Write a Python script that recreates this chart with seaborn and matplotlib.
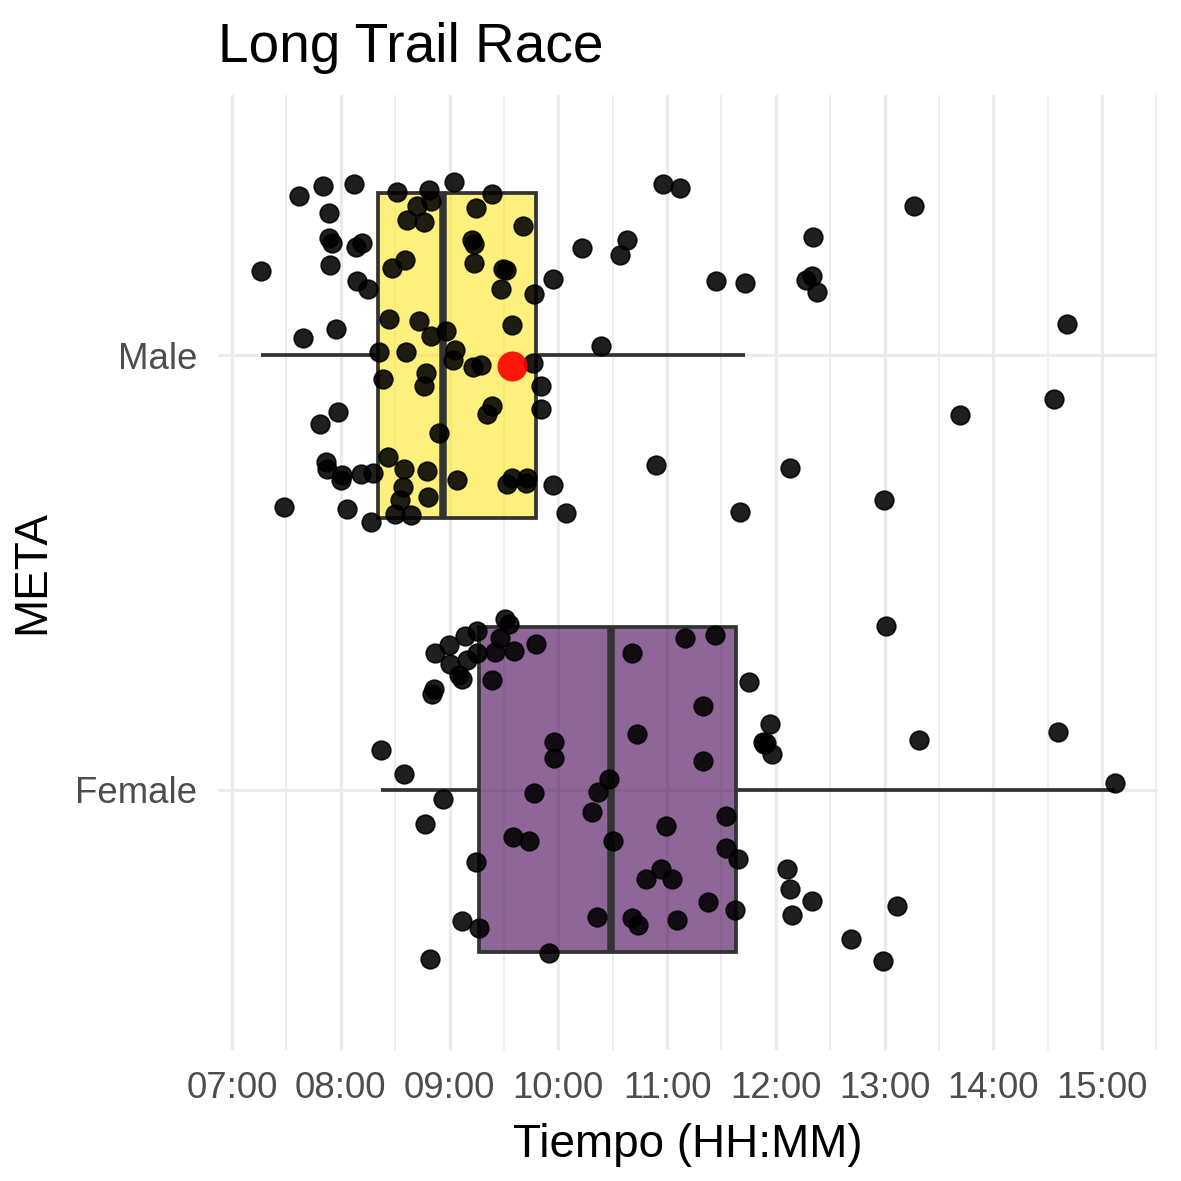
import numpy as np
import pandas as pd
import seaborn as sns
import matplotlib.pyplot as plt
from matplotlib.colors import to_rgba
from matplotlib.ticker import FixedLocator, MultipleLocator

categories = ["Male", "Female"]

# finish times in minutes after midnight
male_minutes = [
    435.8, 456.8, 470.2, 487.1, 473.5, 473.7, 475.2, 474.1, 488.2, 491.7,
    489.1, 494.9, 477.5, 459.2, 510.9, 528.5, 529.6, 521.9, 516.7, 525.9,
    542.6, 563.6, 554.8, 580.7, 552.6, 553.4, 553.5, 569.3, 571.2, 568.4,
    586.5, 596.9, 508.4, 515.4, 506.8, 523.0, 529.6, 538.2, 574.5, 501.1,
    515.7, 543.1, 542.1, 503.1, 526.9, 525.8, 553.1, 557.5, 586.2, 590.5,
    590.5, 563.4, 560.9, 478.3, 468.6, 534.4, 472.0, 472.6, 480.9, 480.0,
    491.0, 498.0, 505.9, 515.1, 527.6, 544.1, 514.2, 512.5, 528.0, 509.8,
    518.6, 496.7, 483.6, 448.5, 574.6, 571.7, 582.8, 582.2, 596.9, 604.3,
    658.0, 667.3, 796.1, 613.1, 637.8, 634.1, 740.4, 687.0, 703.2, 736.5,
    739.8, 742.9, 880.5, 623.8, 873.5, 821.8, 653.8, 727.7, 779.9, 700.4,
]
male_jitter = [
    -0.195, -0.368, -0.391, -0.396, -0.329, -0.271, -0.259, -0.208, -0.249, -0.259,
    -0.172, -0.154, -0.061, -0.039, -0.376, -0.382, -0.356, -0.345, -0.311, -0.308,
    -0.400, -0.371, -0.339, -0.299, -0.267, -0.256, -0.212, -0.200, -0.197, -0.154,
    -0.141, -0.176, -0.202, -0.220, -0.085, -0.079, -0.044, -0.057, -0.069, -0.008,
    -0.009, -0.013, 0.011, 0.055, 0.041, 0.070, 0.026, 0.022, 0.017, 0.071,
    0.123, 0.116, 0.134, 0.130, 0.159, 0.179, 0.245, 0.262, 0.276, 0.287,
    0.274, 0.270, 0.233, 0.262, 0.266, 0.287, 0.304, 0.332, 0.326, 0.366,
    0.368, 0.383, 0.354, 0.350, 0.283, 0.297, 0.282, 0.295, 0.299, 0.362,
    -0.394, -0.386, -0.344, -0.247, -0.267, -0.232, -0.272, -0.171, -0.167, -0.174,
    -0.183, -0.147, -0.072, -0.022, 0.101, 0.138, 0.253, 0.260, 0.332, 0.360,
]
female_minutes = [
    570.6, 572.8, 555.0, 548.7, 539.9, 531.8, 567.9, 565.1, 575.8, 587.6,
    555.0, 549.8, 540.3, 545.4, 547.1, 563.3, 531.6, 530.3, 502.0, 514.7,
    597.8, 597.7, 586.6, 536.6, 621.7, 526.5, 627.7, 618.5, 630.0, 575.2,
    583.9, 554.5, 659.3, 692.4, 692.4, 699.3, 656.7, 648.2, 662.6, 682.8,
    697.5, 621.5, 640.5, 643.8, 665.7, 546.7, 556.3, 594.7, 529.4, 640.5,
    669.8, 686.6, 705.2, 679.9, 643.4, 679.9, 716.7, 712.8, 714.5, 717.8,
    780.7, 799.2, 875.6, 907.3, 726.4, 727.7, 740.0, 729.0, 787.1, 761.3,
    779.3, 713.6,
]
female_jitter = [
    -0.394, -0.382, -0.366, -0.354, -0.334, -0.315, -0.348, -0.317, -0.320, -0.336,
    -0.314, -0.298, -0.290, -0.263, -0.254, -0.252, -0.231, -0.219, -0.091, -0.035,
    -0.110, -0.073, 0.009, 0.021, 0.006, 0.080, -0.024, 0.051, 0.118, 0.109,
    0.118, 0.166, 0.085, 0.062, 0.134, 0.159, 0.182, 0.207, 0.205, 0.259,
    0.278, 0.293, 0.297, 0.313, 0.301, 0.303, 0.320, 0.376, 0.391, -0.315,
    -0.350, -0.356, -0.247, -0.192, -0.128, -0.066, -0.150, -0.110, -0.108, -0.081,
    -0.376, -0.115, -0.133, -0.014, 0.184, 0.228, 0.256, 0.290, 0.268, 0.344,
    0.395, -0.104,
]

# highlighted runner (red dot)
highlight_minutes = [574.5]
highlight_jitter = [0.025]
highlight_group = ["Male"]

hour_ticks = [7, 8, 9, 10, 11, 12, 13, 14, 15]
hour_labels = ["07:00", "08:00", "09:00", "10:00", "11:00", "12:00", "13:00", "14:00", "15:00"]
box_colors = {"Male": "#FDE725", "Female": "#440154"}

df = pd.DataFrame({
    "META": ["Male"] * len(male_minutes) + ["Female"] * len(female_minutes),
    "hours": np.array(male_minutes + female_minutes) / 60,
    "jitter": male_jitter + female_jitter,
})
cat_pos = {c: i for i, c in enumerate(categories)}
df["ypos"] = df["META"].map(cat_pos) + df["jitter"]

hl = pd.DataFrame({"hours": np.array(highlight_minutes) / 60,
                   "ypos": [cat_pos[g] + j for g, j in zip(highlight_group, highlight_jitter)]})

sns.set_style("white")
plt.rcParams["font.family"] = ["Liberation Sans", "DejaVu Sans"]

fig = plt.figure(figsize=(1181 / 300, 1181 / 300), dpi=300)
ax = fig.add_axes([0.1846, 0.1109, 0.7959, 0.8087])

sns.boxplot(data=df, x="hours", y="META", hue="META", order=categories, hue_order=categories,
            palette=box_colors, saturation=1, width=0.75, whis=1.5, showfliers=False,
            showcaps=False, linecolor="#333333", linewidth=0.9,
            medianprops={"linewidth": 1.8}, legend=False, ax=ax)
for p in ax.patches:
    p.set_facecolor(to_rgba(p.get_facecolor(), 0.6))

sns.scatterplot(data=df, x="hours", y="ypos", color="black", alpha=0.88, s=20,
                edgecolor="black", linewidth=0.4, legend=False, ax=ax, zorder=4)
sns.scatterplot(data=hl, x="hours", y="ypos", color="#FF0000", alpha=0.9, s=52,
                linewidth=0, legend=False, ax=ax, zorder=5)

lo, hi = df["hours"].min(), df["hours"].max()
pad = 0.05 * (hi - lo)
ax.set_xlim(lo - pad, hi + pad)
ax.set_ylim(len(categories) - 1 + 0.6, -0.6)

ax.xaxis.set_major_locator(FixedLocator(hour_ticks))
ax.xaxis.set_minor_locator(MultipleLocator(0.5))
ax.set_xticklabels(hour_labels)
ax.set_yticks(range(len(categories)))
ax.set_yticklabels(categories)

ax.set_axisbelow(True)
ax.grid(which="major", axis="both", color="#EBEBEB", linewidth=0.75)
ax.grid(which="minor", axis="x", color="#EBEBEB", linewidth=0.4)
for s in ax.spines.values():
    s.set_visible(False)
ax.tick_params(which="both", length=0)
ax.tick_params(axis="both", labelsize=8.8, labelcolor="#4D4D4D", pad=5)

ax.set_title("Long Trail Race", loc="left", fontsize=13.2, pad=8, color="black")
ax.set_xlabel("Tiempo (HH:MM)", fontsize=11, labelpad=4, color="black")
ax.set_ylabel("META", fontsize=11, labelpad=5, color="black")

fig.savefig("out.png", dpi=300)
